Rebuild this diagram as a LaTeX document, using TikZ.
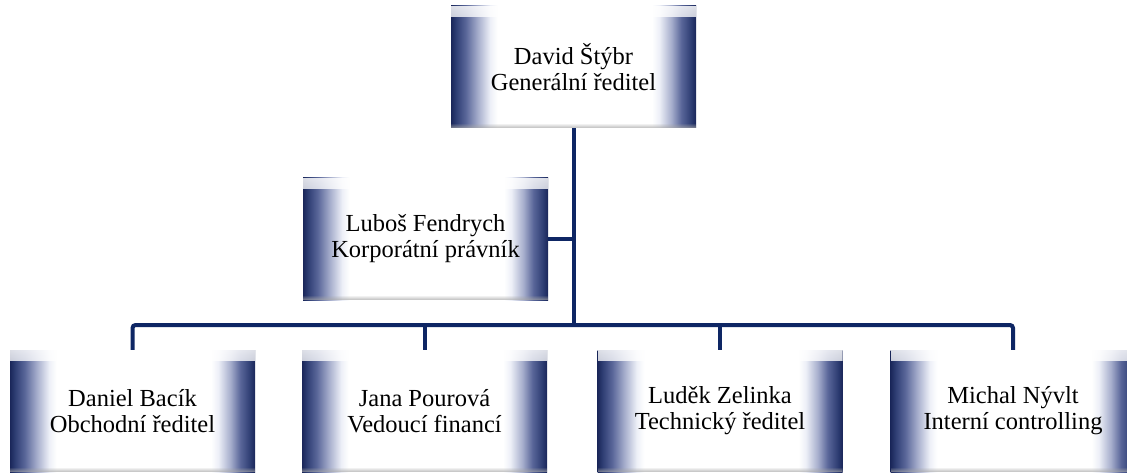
\documentclass[tikz,border=0pt]{standalone}
\usepackage{fontspec}
\setmainfont{Liberation Serif}
\usetikzlibrary{fadings}
\definecolor{linenavy}{RGB}{14,38,100}
\pgfdeclarehorizontalshading{boxshade}{100bp}{%
  rgb(0bp)=(0.10,0.15,0.35);
  rgb(25bp)=(0.10,0.15,0.35);
  rgb(26bp)=(0.18,0.24,0.45);
  rgb(28bp)=(0.35,0.40,0.60);
  rgb(30.5bp)=(0.65,0.68,0.80);
  rgb(33bp)=(0.93,0.94,0.97);
  rgb(34.5bp)=(1,1,1);
  rgb(66bp)=(1,1,1);
  rgb(67.5bp)=(0.93,0.94,0.97);
  rgb(70bp)=(0.65,0.68,0.80);
  rgb(72bp)=(0.35,0.40,0.60);
  rgb(74bp)=(0.18,0.24,0.45);
  rgb(75bp)=(0.10,0.15,0.35);
  rgb(100bp)=(0.10,0.15,0.35)}
\tikzfading[name=topfade, top color=transparent!15, bottom color=transparent!100]
\tikzfading[name=botfade, top color=transparent!100, bottom color=transparent!25]
\tikzset{
  orgbox/.style={shading=boxshade, minimum width=245pt, minimum height=122pt,
    inner sep=0pt, align=center, font=\fontsize{24.5}{26}\selectfont,
    path picture={
      \fill[white, path fading=topfade]
        (path picture bounding box.north west) rectangle
        ([yshift=-11pt]path picture bounding box.north east);
      \fill[gray!70, path fading=botfade]
        ([yshift=5pt]path picture bounding box.south west) rectangle
        (path picture bounding box.south east);
    }},
  conn/.style={draw=linenavy, line width=4pt}
}
\begin{document}
\begin{tikzpicture}[x=1pt,y=-1pt]
\useasboundingbox (0,0) rectangle (1127,473);
\clip (0,0) rectangle (1127,473);
\node[orgbox] (ceo) at (573.5,67) {David Štýbr\\Generální ředitel};
\node[orgbox] (law) at (425.5,239) {Luboš Fendrych\\Korporátní právník};
\node[orgbox] (b1) at (132.5,411) {Daniel Bacík\\Obchodní ředitel};
\node[orgbox] (b2) at (424.5,411) {Jana Pourová\\Vedoucí financí};
\node[orgbox] (b3) at (720,411) {Luděk Zelinka\\Technický ředitel};
\node[orgbox] (b4) at (1013,411) {Michal Nývlt\\Interní controlling};
\coordinate (j) at (573.5,325);
\draw[conn] (ceo.south) -- (j);
\draw[conn] (law.east) -- (law.east -| ceo.south);
\draw[conn, rounded corners=3pt] (b1.north) |- (b4.north |- j) -- (b4.north);
\draw[conn] (b2.north) -- (b2.north |- j);
\draw[conn] (b3.north) -- (b3.north |- j);
\end{tikzpicture}
\end{document}
